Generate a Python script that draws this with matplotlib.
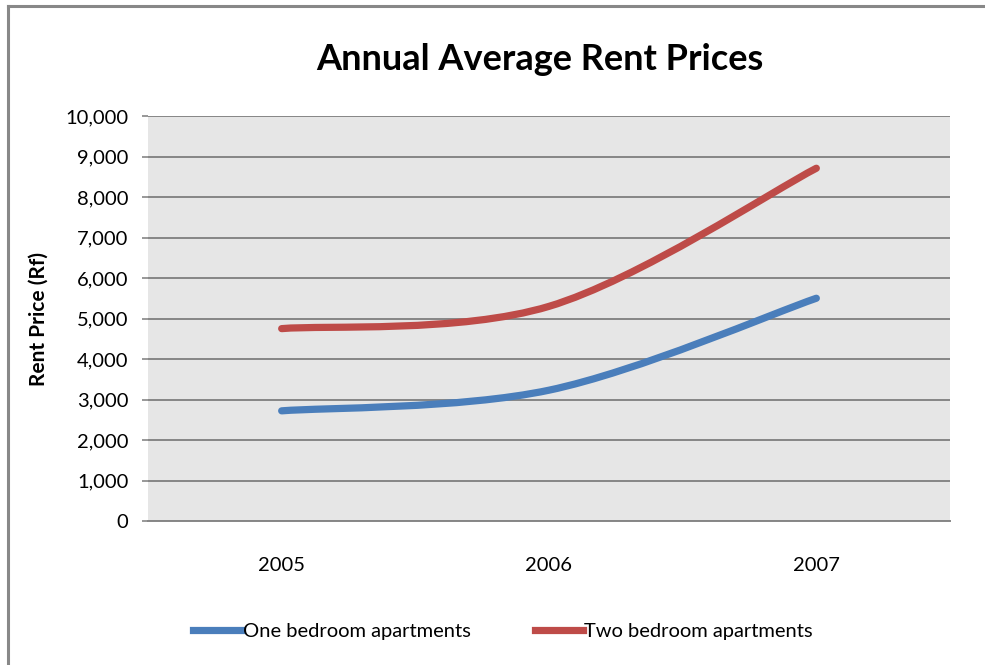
import matplotlib
matplotlib.use('Agg')
import matplotlib.pyplot as plt
from matplotlib.path import Path
from matplotlib.patches import PathPatch
from matplotlib.ticker import FuncFormatter
from matplotlib.lines import Line2D
import numpy as np

years = ['2005', '2006', '2007']
one_bedroom = [2720, 3230, 5500]
two_bedroom = [4750, 5300, 8710]
series_names = ['One bedroom apartments', 'Two bedroom apartments']
colors = ['#4A7EBB', '#BE4B48']

plt.rcParams['font.family'] = ['Lato', 'DejaVu Sans']


def smooth_path(xs, ys):
    # excel-like smoothed line: bezier segments through each point
    pts = np.column_stack([xs, ys]).astype(float)
    n = len(pts)
    verts = [pts[0]]
    codes = [Path.MOVETO]
    for i in range(n - 1):
        p0 = pts[max(i - 1, 0)]
        p1 = pts[i]
        p2 = pts[i + 1]
        p3 = pts[min(i + 2, n - 1)]
        c1 = p1 + (p2 - p0) / 6.0
        c2 = p2 - (p3 - p1) / 6.0
        verts += [c1, c2, p2]
        codes += [Path.CURVE4] * 3
    return Path(verts, codes)


fig = plt.figure(figsize=(9.85, 6.65), dpi=100)
ax = fig.add_axes([148 / 985, 1 - 521 / 665, 802 / 985, 405 / 665])
ax.set_facecolor('#E6E6E6')

x = np.arange(len(years))
for vals, c in zip([one_bedroom, two_bedroom], colors):
    patch = PathPatch(smooth_path(x, vals), facecolor='none', edgecolor=c,
                      lw=5.2, capstyle='round', joinstyle='round', zorder=3)
    ax.add_patch(patch)

ax.set_xlim(-0.5, 2.5)
ax.set_ylim(0, 10000)
ax.set_yticks(np.arange(0, 10001, 1000))
ax.yaxis.set_major_formatter(FuncFormatter(lambda v, p: '{:,.0f}'.format(v)))
ax.set_xticks(x)
ax.set_xticklabels(years)
ax.grid(axis='y', color='#868686', lw=1.4)
ax.set_axisbelow(True)
for s in ['top', 'right', 'left']:
    ax.spines[s].set_visible(False)
ax.spines['bottom'].set_color('#868686')
ax.spines['bottom'].set_linewidth(1.4)
ax.tick_params(axis='y', length=4, color='#868686', width=1.2, labelsize=14.5, pad=10)
ax.tick_params(axis='x', length=0, labelsize=14.5, pad=26)
ax.set_ylabel('Rent Price (Rf)', fontsize=15, fontweight='bold', labelpad=12)

fig.text(540 / 985, 1 - 60 / 665, 'Annual Average Rent Prices', ha='center', va='center',
         fontsize=26, fontweight='bold')

handles = [Line2D([], [], color=c, lw=5.2) for c in colors]
fig.legend(handles, series_names, loc='center', bbox_to_anchor=(503 / 985, 1 - 631 / 665),
           ncol=2, frameon=False, fontsize=14.5, handlelength=2.4, handletextpad=0.05,
           columnspacing=3.2)

# outer chart border (top and left edges visible)
fig.add_artist(Line2D([8 / 985, 1], [1 - 6 / 665, 1 - 6 / 665], color='#888888', lw=2.2))
fig.add_artist(Line2D([8 / 985, 8 / 985], [0, 1 - 6 / 665], color='#888888', lw=2.2))

fig.savefig('out.png', dpi=100)
